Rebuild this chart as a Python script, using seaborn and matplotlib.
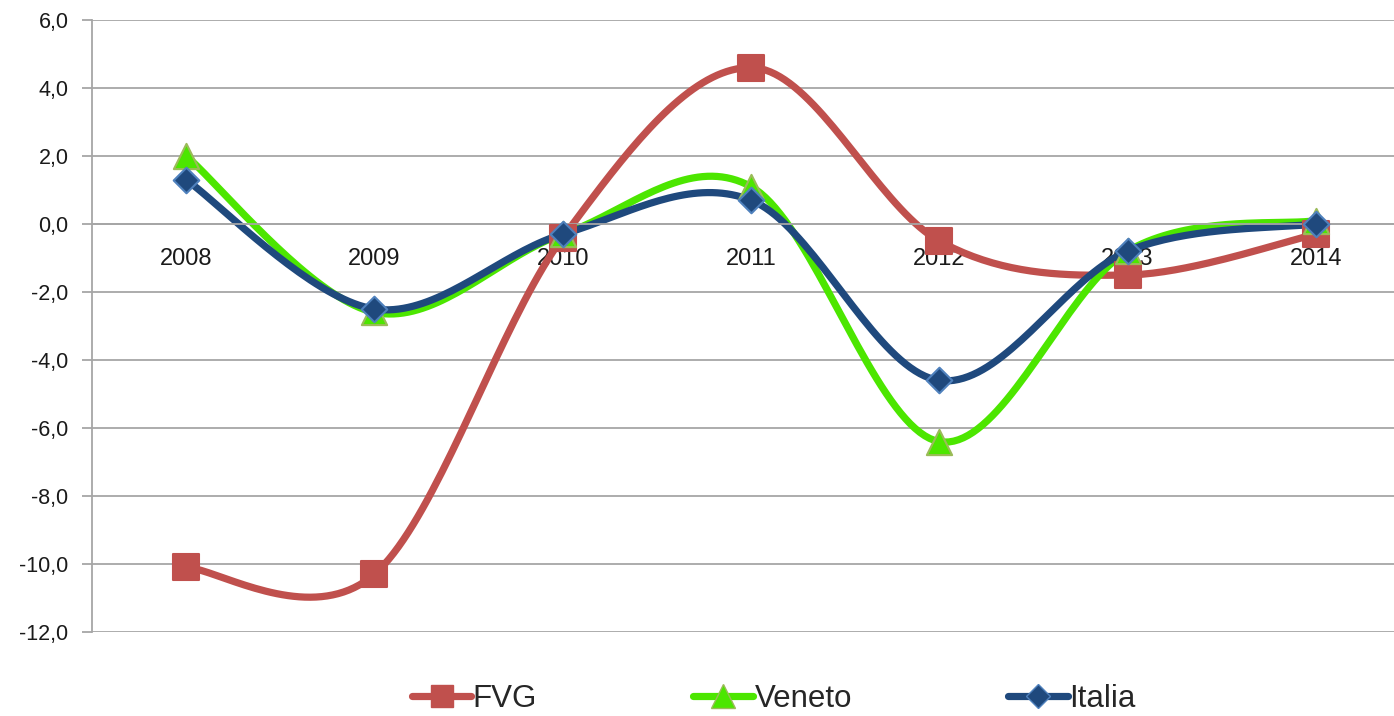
import numpy as np
import pandas as pd
import matplotlib
matplotlib.use("Agg")
import matplotlib.pyplot as plt
from matplotlib.lines import Line2D
from matplotlib.ticker import FuncFormatter, FixedLocator
import seaborn as sns

# data
years = ["2008", "2009", "2010", "2011", "2012", "2013", "2014"]
fvg = [-10.1, -10.3, -0.4, 4.6, -0.5, -1.5, -0.3]
veneto = [2.0, -2.6, -0.3, 1.1, -6.4, -0.8, 0.1]
italia = [1.3, -2.5, -0.3, 0.7, -4.6, -0.8, 0.0]

series = {"FVG": fvg, "Veneto": veneto, "Italia": italia}
line_colors = {"FVG": "#C0504D", "Veneto": "#4CE600", "Italia": "#1F497D"}
edge_colors = {"FVG": "#C0504D", "Veneto": "#9BBB59", "Italia": "#4F81BD"}
markers = {"FVG": "s", "Veneto": "^", "Italia": "D"}
msizes = {"FVG": 370, "Veneto": 330, "Italia": 170}


def smooth(xs, ys, n=40):
    # excel-like smoothed line (catmull-rom as bezier)
    p = np.column_stack([xs, ys]).astype(float)
    pts = []
    for i in range(len(p) - 1):
        p0 = p[max(i - 1, 0)]
        p1, p2 = p[i], p[i + 1]
        p3 = p[min(i + 2, len(p) - 1)]
        b1 = p1 + (p2 - p0) / 6
        b2 = p2 - (p3 - p1) / 6
        t = np.linspace(0, 1, n)[:, None]
        seg = ((1 - t) ** 3) * p1 + 3 * ((1 - t) ** 2) * t * b1 + 3 * (1 - t) * t ** 2 * b2 + t ** 3 * p2
        pts.append(seg if i == 0 else seg[1:])
    return np.vstack(pts)


rows = []
for name, vals in series.items():
    sm = smooth(np.arange(len(years)), vals)
    rows.append(pd.DataFrame({"x": sm[:, 0], "y": sm[:, 1], "serie": name}))
smooth_df = pd.concat(rows, ignore_index=True)

pts_df = pd.DataFrame({
    "x": np.tile(np.arange(len(years)), len(series)),
    "y": np.concatenate([v for v in series.values()]),
    "serie": np.repeat(list(series.keys()), len(years)),
})

sns.set_theme(style="white")
plt.rcParams["font.family"] = ["Liberation Sans", "DejaVu Sans"]

fig = plt.figure(figsize=(13.94, 7.16), dpi=100)
ax = fig.add_axes([92 / 1394, 1 - 632 / 716, 1318 / 1394, 612 / 716])

ax.set_ylim(-12, 6)
ax.set_xlim(-0.5, 6.5)
ax.yaxis.set_major_locator(FixedLocator(np.arange(-12, 7, 2)))
ax.yaxis.set_major_formatter(FuncFormatter(lambda v, _: f"{v:.1f}".replace(".", ",")))
ax.grid(axis="y", color="#A6A6A6", linewidth=1.3)
ax.set_axisbelow(True)

for name in series:
    sub = smooth_df[smooth_df["serie"] == name]
    sns.lineplot(data=sub, x="x", y="y", sort=False, color=line_colors[name],
                 linewidth=5.2, legend=False, ax=ax, zorder=2)
for name in series:
    sub = pts_df[pts_df["serie"] == name]
    sns.scatterplot(data=sub, x="x", y="y", marker=markers[name], s=msizes[name],
                    color=line_colors[name],
                    edgecolor=edge_colors[name], linewidth=1.5, legend=False, ax=ax, zorder=3)

ax.set_xlabel("")
ax.set_ylabel("")

for s in ["top", "right"]:
    ax.spines[s].set_visible(False)
ax.spines["left"].set_color("#A6A6A6")
ax.spines["left"].set_linewidth(1.3)
ax.spines["bottom"].set_position(("data", 0))
ax.spines["bottom"].set_color("#A6A6A6")
ax.spines["bottom"].set_linewidth(1.3)

ax.set_xticks(range(len(years)))
ax.set_xticklabels(years)
ax.set_xticks(np.arange(0.5, len(years) - 0.5, 1), minor=True)
ax.tick_params(axis="x", which="major", length=0, pad=17, labelsize=17, labelcolor="#1a1a1a")
ax.tick_params(axis="x", which="minor", length=6, width=1.3, color="#A6A6A6", direction="out")
ax.tick_params(axis="y", length=7, width=1.3, color="#A6A6A6", direction="out", pad=10,
               labelsize=15.5, labelcolor="#1a1a1a", left=True)

handles = [
    Line2D([], [], color=line_colors[n], linewidth=5.2, marker=markers[n],
           markersize={"FVG": 16, "Veneto": 17, "Italia": 12}[n],
           markerfacecolor=line_colors[n], markeredgecolor=edge_colors[n], label=n)
    for n in series
]
fig.legend(handles=handles, loc="center", bbox_to_anchor=(0.555, 0.024), ncol=3, frameon=False,
           fontsize=22.5, handlelength=1.9, handletextpad=0.05, columnspacing=5.0,
           borderaxespad=0, borderpad=0)

fig.savefig("out.png", dpi=100)
